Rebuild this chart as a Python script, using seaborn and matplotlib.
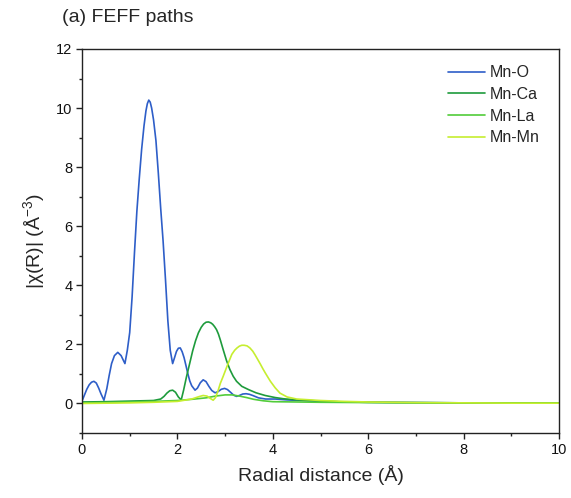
import matplotlib
matplotlib.use("Agg")
import matplotlib.pyplot as plt
import seaborn as sns
import pandas as pd
from matplotlib.ticker import MultipleLocator

# ---- data ----
labels = ["Mn-O", "Mn-Ca", "Mn-La", "Mn-Mn"]
colors = ["#2E5EC8", "#1E9B3C", "#52CC3A", "#C6EE30"]

mno_r = [0, 0.05, 0.1, 0.15, 0.2, 0.25, 0.30, 0.35, 0.40, 0.46, 0.52, 0.57, 0.62, 0.68,
         0.75, 0.82, 0.87, 0.90, 0.95, 1.00, 1.05, 1.10, 1.15, 1.20, 1.25, 1.30, 1.34,
         1.37, 1.40, 1.43, 1.46, 1.50, 1.55, 1.60, 1.65, 1.70, 1.75, 1.80, 1.85, 1.90,
         1.94, 1.98, 2.02, 2.06, 2.10, 2.14, 2.18, 2.22, 2.26, 2.30, 2.37, 2.42, 2.48,
         2.54, 2.60, 2.66, 2.72, 2.79, 2.85, 2.92, 2.99, 3.05, 3.12, 3.18, 3.24, 3.30,
         3.37, 3.44, 3.51, 3.58, 3.70, 3.85, 4.05, 4.3, 4.6, 5.0, 5.5, 6.0, 7.0, 8.0,
         9.0, 10.0]
mno_chi = [0.08, 0.28, 0.48, 0.63, 0.72, 0.75, 0.69, 0.52, 0.32, 0.11, 0.5, 0.95, 1.35,
           1.62, 1.73, 1.62, 1.45, 1.35, 1.8, 2.4, 3.6, 5.1, 6.5, 7.6, 8.6, 9.4, 9.9,
           10.15, 10.27, 10.2, 10.0, 9.6, 8.9, 7.8, 6.6, 5.5, 4.2, 2.8, 1.8, 1.35,
           1.55, 1.76, 1.87, 1.88, 1.75, 1.55, 1.28, 1.0, 0.76, 0.6, 0.45, 0.52, 0.70,
           0.80, 0.74, 0.58, 0.44, 0.36, 0.40, 0.48, 0.51, 0.47, 0.37, 0.28, 0.24, 0.27,
           0.32, 0.33, 0.31, 0.27, 0.19, 0.15, 0.15, 0.12, 0.10, 0.07, 0.05, 0.04, 0.03,
           0.02, 0.02, 0.02]

mnca_r = [0, 0.5, 1.0, 1.5, 1.65, 1.72, 1.78, 1.84, 1.90, 1.96, 2.02, 2.08, 2.13, 2.19,
          2.26, 2.32, 2.38, 2.44, 2.50, 2.55, 2.60, 2.65, 2.70, 2.74, 2.78, 2.82, 2.86,
          2.90, 2.96, 3.03, 3.10, 3.17, 3.24, 3.35, 3.49, 3.65, 3.84, 4.05, 4.22, 4.5,
          5.0, 5.5, 6.0, 7.0, 8.0, 9.0, 10.0]
mnca_chi = [0.05, 0.06, 0.08, 0.1, 0.15, 0.24, 0.35, 0.43, 0.45, 0.38, 0.22, 0.12, 0.45,
            0.9, 1.37, 1.78, 2.12, 2.39, 2.58, 2.69, 2.75, 2.76, 2.73, 2.68, 2.60, 2.5,
            2.35, 2.15, 1.82, 1.45, 1.15, 0.92, 0.75, 0.58, 0.47, 0.36, 0.27, 0.2, 0.16,
            0.12, 0.08, 0.05, 0.04, 0.03, 0.02, 0.02, 0.02]

mnla_r = [0, 0.5, 1.0, 1.5, 2.0, 2.3, 2.6, 2.8, 3.0, 3.15, 3.3, 3.45, 3.6, 3.8, 4.0,
          4.5, 5.0, 6.0, 7.0, 8.0, 9.0, 10.0]
mnla_chi = [0.02, 0.03, 0.05, 0.07, 0.1, 0.14, 0.19, 0.25, 0.29, 0.29, 0.25, 0.2, 0.14,
            0.09, 0.06, 0.05, 0.04, 0.03, 0.02, 0.02, 0.02, 0.02]

mnmn_r = [0, 0.5, 1.0, 1.5, 2.0, 2.3, 2.45, 2.54, 2.62, 2.68, 2.75, 2.80, 2.85, 2.90,
          2.96, 3.05, 3.14, 3.20, 3.25, 3.30, 3.35, 3.40, 3.46, 3.52, 3.58, 3.63, 3.68,
          3.74, 3.79, 3.84, 3.90, 3.95, 4.05, 4.15, 4.3, 4.5, 5.0, 5.5, 6.0, 7.0, 8.0,
          9.0, 10.0]
mnmn_chi = [0.0, 0.01, 0.02, 0.04, 0.07, 0.15, 0.23, 0.27, 0.25, 0.18, 0.11, 0.2, 0.42,
            0.68, 0.92, 1.3, 1.66, 1.80, 1.88, 1.94, 1.97, 1.97, 1.95, 1.88, 1.77, 1.64,
            1.5, 1.33, 1.18, 1.04, 0.88, 0.75, 0.53, 0.35, 0.22, 0.15, 0.1, 0.07, 0.05,
            0.03, 0.02, 0.01, 0.01]

series = [(labels[0], mno_r, mno_chi), (labels[1], mnca_r, mnca_chi),
          (labels[2], mnla_r, mnla_chi), (labels[3], mnmn_r, mnmn_chi)]
df = pd.concat([pd.DataFrame({"R": r, "chi": c, "path": n}) for n, r, c in series],
               ignore_index=True)

sns.set_style("ticks")
plt.rcParams["font.family"] = ["Liberation Sans", "DejaVu Sans"]
plt.rcParams["mathtext.fontset"] = "custom"
plt.rcParams["mathtext.rm"] = "Liberation Sans"

fig = plt.figure(figsize=(5.71, 4.98), dpi=100)
ax = fig.add_axes([82 / 571, 1 - 433 / 498, 477 / 571, 384 / 498])

sns.lineplot(data=df, x="R", y="chi", hue="path", hue_order=labels,
             palette=dict(zip(labels, colors)), estimator=None, sort=False,
             linewidth=1.2, ax=ax)

ax.set_xlim(0, 10)
ax.set_ylim(-1, 12)
ax.xaxis.set_major_locator(MultipleLocator(2))
ax.xaxis.set_minor_locator(MultipleLocator(1))
ax.yaxis.set_major_locator(MultipleLocator(2))
ax.yaxis.set_minor_locator(MultipleLocator(1))
ax.tick_params(which="major", direction="out", length=4, width=1.0, labelsize=10.5,
               color="#222222", labelcolor="#111111", pad=3)
ax.tick_params(which="minor", direction="out", length=2.5, width=1.0, color="#222222")
for s in ax.spines.values():
    s.set_visible(True)
    s.set_linewidth(1.0)
    s.set_color("#222222")

ax.set_xlabel("Radial distance (Å)", fontsize=14, labelpad=6)
ax.set_ylabel("|χ(R)| (Å$^{-3}$)", fontsize=14, labelpad=6)

leg = ax.legend(frameon=False, loc="upper left", bbox_to_anchor=(0.767, 0.958),
                borderaxespad=0, borderpad=0, fontsize=11.5, handlelength=2.3,
                handletextpad=0.35, labelspacing=0.42)
for line in leg.get_lines():
    line.set_linewidth(1.2)

fig.text(62 / 571, 1 - 17 / 498, "(a) FEFF paths", fontsize=14, va="center", ha="left")

fig.savefig("out.png", dpi=100)
